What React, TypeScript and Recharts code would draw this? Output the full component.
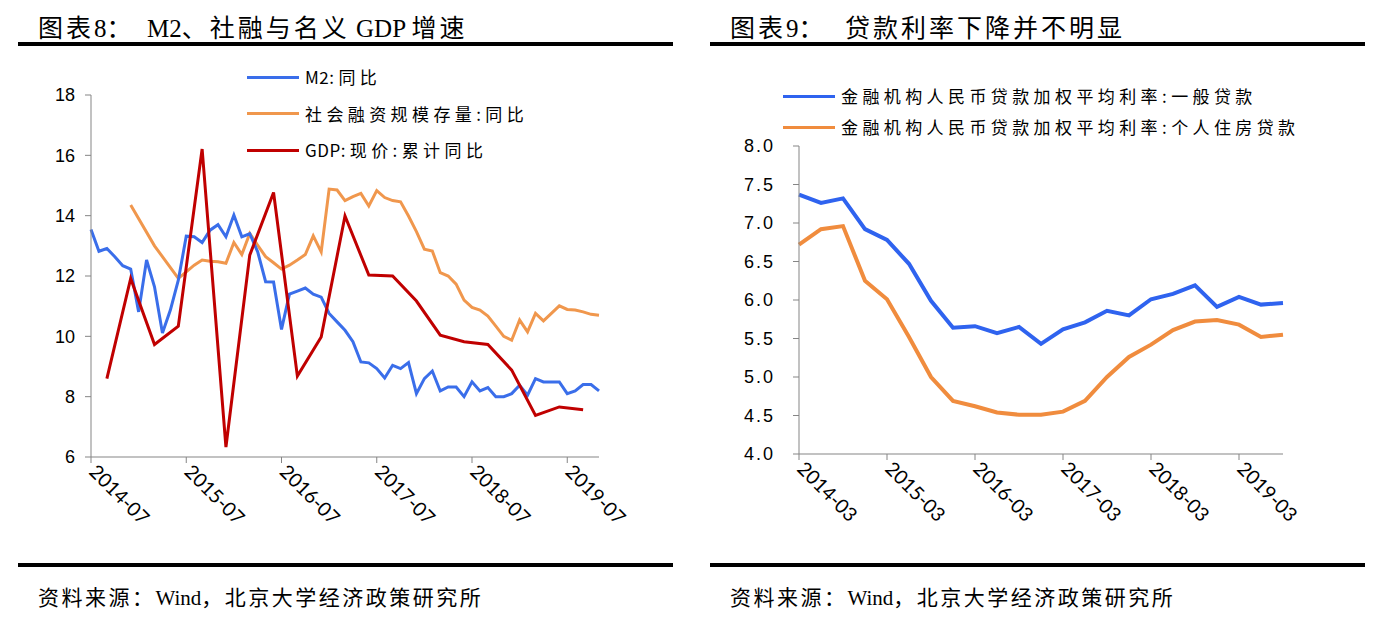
import React from "react";
import { LineChart, Line, XAxis, YAxis } from "recharts";

// ─── Data ────────────────────────────────────────────────────────────────────

// 图表8: monthly axis 2014-07 … 2019-11
const START_YEAR = 2014;
const START_MONTH = 7;
const MONTH_COUNT = 65;

const m2Yoy = [
  13.54, 12.82, 12.91, 12.64, 12.34, 12.23, 10.81, 12.53, 11.64, 10.11,
  10.87, 11.86, 13.32, 13.3, 13.11, 13.52, 13.7, 13.3, 14.02, 13.3,
  13.4, 12.8, 11.81, 11.8, 10.23, 11.4, 11.5, 11.6, 11.4, 11.3,
  10.76, 10.48, 10.2, 9.82, 9.15, 9.12, 8.93, 8.62, 9.04, 8.93,
  9.13, 8.1, 8.6, 8.85, 8.19, 8.32, 8.32, 8.0, 8.49, 8.19,
  8.3, 8.0, 8.0, 8.1, 8.38, 8.05, 8.6, 8.49, 8.49, 8.49,
  8.1, 8.19, 8.4, 8.4, 8.19,
];

// 社融存量: quarterly before 2015-06, then monthly
const tsfQuarterly = [
  { month: "2014-12", value: 14.35 },
  { month: "2015-03", value: 13.0 },
];
const tsfMonthly = [
  11.92, 12.14, 12.36, 12.53, 12.49, 12.47, 12.42, 13.11, 12.71, 13.41,
  13.02, 12.64, 12.44, 12.23, 12.36, 12.53, 12.71, 13.33, 12.8, 14.88,
  14.85, 14.5, 14.63, 14.74, 14.32, 14.83, 14.6, 14.5, 14.46, 13.99,
  13.47, 12.89, 12.83, 12.11, 12.0, 11.73, 11.2, 10.96, 10.87, 10.67,
  10.34, 10.0, 9.87, 10.54, 10.15, 10.76, 10.51, 10.76, 11.01, 10.89,
  10.87, 10.81, 10.73, 10.7,
];
const tsfMonthlyStart = "2015-06";

// GDP 现价累计同比, quarterly from 2014-09
const gdpQuarterly = [
  8.6, 11.92, 9.73, 10.34, 16.21, 6.33, 12.69, 14.77, 8.68, 9.98,
  13.99, 12.03, 12.0, 11.17, 10.04, 9.82, 9.73, 8.88, 7.38, 7.66, 7.57,
];
const gdpStart = "2014-09";

const leftTicks = ["2014-07", "2015-07", "2016-07", "2017-07", "2018-07", "2019-07"];
const leftYTicks = [6, 8, 10, 12, 14, 16, 18];

// 图表9: quarterly 2014-03 … 2019-09
const quarters = [
  "2014-03", "2014-06", "2014-09", "2014-12",
  "2015-03", "2015-06", "2015-09", "2015-12",
  "2016-03", "2016-06", "2016-09", "2016-12",
  "2017-03", "2017-06", "2017-09", "2017-12",
  "2018-03", "2018-06", "2018-09", "2018-12",
  "2019-03", "2019-06", "2019-09",
];
const generalLoanRate = [
  7.37, 7.26, 7.32, 6.92, 6.78, 6.47, 5.99, 5.64, 5.66, 5.57, 5.65, 5.43,
  5.62, 5.71, 5.86, 5.8, 6.01, 6.08, 6.19, 5.91, 6.04, 5.94, 5.96,
];
const mortgageRate = [
  6.72, 6.92, 6.96, 6.25, 6.01, 5.52, 5.0, 4.69, 4.62, 4.54, 4.51, 4.51,
  4.55, 4.69, 5.0, 5.26, 5.42, 5.61, 5.72, 5.74, 5.68, 5.52, 5.55,
];
const rightTicks = ["2014-03", "2015-03", "2016-03", "2017-03", "2018-03", "2019-03"];
const rightYTicks = [4.0, 4.5, 5.0, 5.5, 6.0, 6.5, 7.0, 7.5, 8.0];

// ─── Build tables ────────────────────────────────────────────────────────────

const pad = (n: number) => (n < 10 ? "0" + n : "" + n);
const months: string[] = Array.from({ length: MONTH_COUNT }, (_, i) => {
  const m = START_MONTH - 1 + i;
  return `${START_YEAR + Math.floor(m / 12)}-${pad((m % 12) + 1)}`;
});

const leftData = months.map((month, i) => {
  const row: { [k: string]: string | number | null } = { month, m2: m2Yoy[i], tsf: null, gdp: null };
  const q = tsfQuarterly.find((d) => d.month === month);
  if (q) row.tsf = q.value;
  const ts = i - months.indexOf(tsfMonthlyStart);
  if (ts >= 0 && ts < tsfMonthly.length) row.tsf = tsfMonthly[ts];
  const g = i - months.indexOf(gdpStart);
  if (g >= 0 && g % 3 === 0 && g / 3 < gdpQuarterly.length) row.gdp = gdpQuarterly[g / 3];
  return row;
});

const rightData = quarters.map((q, i) => ({
  quarter: q,
  general: generalLoanRate[i],
  mortgage: mortgageRate[i],
}));

// ─── Styles ──────────────────────────────────────────────────────────────────

const AXIS = "#858585";
const BLUE = "#3a6eea";
const ORANGE = "#f0974d";
const RED = "#c00000";
const BLUE2 = "#2f63ef";
const ORANGE2 = "#f08c3e";

const SERIF = "'Liberation Serif', 'Noto Sans CJK SC', serif";
const CJK = "'Noto Sans CJK SC', sans-serif";
const TICK_FONT = "Lato, 'DejaVu Sans', sans-serif";

// CJK glyphs get wide tracking, latin runs stay tight
function Spaced({ text, cjkSpacing, latinSpacing = 0 }: { text: string; cjkSpacing: number; latinSpacing?: number }) {
  const parts = text.match(/[A-Za-z0-9 ]+|[^A-Za-z0-9 ]+/g) || [];
  return (
    <>
      {parts.map((p, i) => (
        <span key={i} style={{ letterSpacing: /[A-Za-z0-9]/.test(p) ? latinSpacing : cjkSpacing }}>
          {p}
        </span>
      ))}
    </>
  );
}

const RotTick = (props: any) => {
  const { x, y, payload } = props;
  return (
    <g transform={`translate(${x - 3},${y + 8})`}>
      <text
        transform="rotate(45)"
        textAnchor="start"
        fontSize={19.5}
        fontFamily={TICK_FONT}
        fill="#000"
      >
        {payload.value}
      </text>
    </g>
  );
};

const Legend = ({
  items,
  left,
  top,
  gap,
}: {
  items: { label: string; color: string }[];
  left: number;
  top: number;
  gap: number;
}) => (
  <div style={{ position: "absolute", left, top }}>
    {items.map((it, i) => (
      <div
        key={it.label}
        style={{
          position: "absolute",
          top: i * gap,
          left: 0,
          display: "flex",
          alignItems: "center",
          whiteSpace: "nowrap",
        }}
      >
        <div style={{ width: 52, height: 3, background: it.color, marginRight: 6 }} />
        <span style={{ fontFamily: CJK, fontSize: 17, color: "#000", lineHeight: "20px" }}>
          <Spaced text={it.label} cjkSpacing={4.4} latinSpacing={0.5} />
        </span>
      </div>
    ))}
  </div>
);

const Panel = ({ left, title }: { left: number; title: string }) => (
  <>
    <div
      style={{
        position: "absolute",
        left: left + 20,
        top: 8,
        fontFamily: SERIF,
        fontSize: 25,
        color: "#000",
        whiteSpace: "pre",
      }}
    >
      <Spaced text={title} cjkSpacing={3} />
    </div>
    <div style={{ position: "absolute", left, top: 42, width: 655, height: 4, background: "#000" }} />
    <div style={{ position: "absolute", left, top: 563, width: 655, height: 4, background: "#000" }} />
    <div
      style={{
        position: "absolute",
        left: left + 20,
        top: 581,
        fontFamily: SERIF,
        fontSize: 21,
        color: "#000",
        whiteSpace: "pre",
      }}
    >
      <Spaced text="资料来源：Wind，北京大学经济政策研究所" cjkSpacing={2.5} />
    </div>
  </>
);

export default function App() {
  return (
    <div
      style={{
        position: "absolute",
        left: 0,
        top: 0,
        width: 1396,
        height: 629,
        background: "#fff",
        overflow: "hidden",
      }}
    >
      <Panel left={18} title="图表8：  M2、社融与名义 GDP 增速" />
      <Panel left={710} title="图表9：  贷款利率下降并不明显" />

      <div style={{ position: "absolute", left: 0, top: 0 }}>
        <LineChart width={640} height={560} data={leftData} margin={{ top: 95, right: 41, bottom: 13, left: 31 }}>
          <XAxis
            dataKey="month"
            ticks={leftTicks}
            interval={0}
            height={90}
            tick={<RotTick />}
            tickSize={6}
            stroke={AXIS}
            axisLine={{ stroke: AXIS }}
          />
          <YAxis
            domain={[6, 18]}
            ticks={leftYTicks}
            interval={0}
            width={60}
            tickSize={6}
            stroke={AXIS}
            tick={{ fill: "#000", fontSize: 18, fontFamily: "'Liberation Sans', sans-serif" }}
            tickMargin={10}
          />
          <Line dataKey="tsf" stroke={ORANGE} strokeWidth={3} dot={false} connectNulls isAnimationActive={false} />
          <Line dataKey="m2" stroke={BLUE} strokeWidth={3} dot={false} isAnimationActive={false} />
          <Line dataKey="gdp" stroke={RED} strokeWidth={3} dot={false} connectNulls isAnimationActive={false} />
        </LineChart>
      </div>
      <Legend
        left={247}
        top={67}
        gap={36.5}
        items={[
          { label: "M2:同比", color: BLUE },
          { label: "社会融资规模存量:同比", color: ORANGE },
          { label: "GDP:现价:累计同比", color: RED },
        ]}
      />

      <div style={{ position: "absolute", left: 700, top: 0 }}>
        <LineChart width={620} height={560} data={rightData} margin={{ top: 146, right: 37, bottom: 16, left: 39 }}>
          <XAxis
            dataKey="quarter"
            ticks={rightTicks}
            interval={0}
            height={90}
            tick={<RotTick />}
            tickSize={6}
            stroke={AXIS}
          />
          <YAxis
            domain={[4, 8]}
            ticks={rightYTicks}
            interval={0}
            width={60}
            tickSize={6}
            stroke={AXIS}
            tickFormatter={(v: number) => v.toFixed(1)}
            tick={{ fill: "#000", fontSize: 18, fontFamily: "'Liberation Sans', sans-serif", letterSpacing: 2 }}
            tickMargin={18}
          />
          <Line dataKey="general" stroke={BLUE2} strokeWidth={4} dot={false} isAnimationActive={false} />
          <Line dataKey="mortgage" stroke={ORANGE2} strokeWidth={4} dot={false} isAnimationActive={false} />
        </LineChart>
      </div>
      <Legend
        left={783}
        top={86}
        gap={31}
        items={[
          { label: "金融机构人民币贷款加权平均利率:一般贷款", color: BLUE2 },
          { label: "金融机构人民币贷款加权平均利率:个人住房贷款", color: ORANGE2 },
        ]}
      />
    </div>
  );
}
